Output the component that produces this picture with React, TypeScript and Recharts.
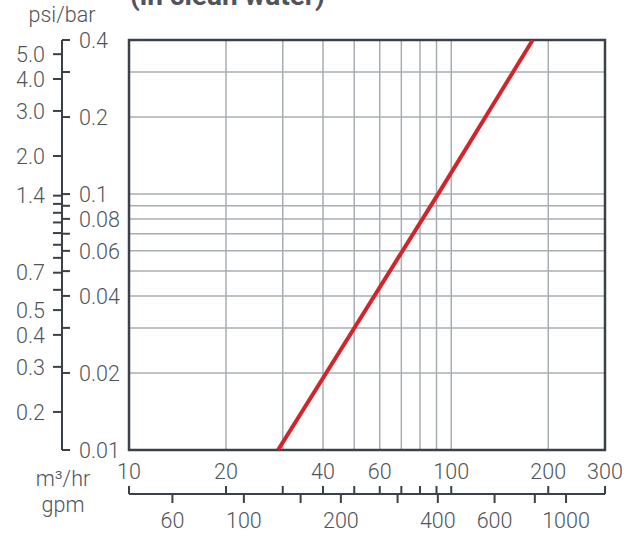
import React from "react";
import { LineChart, Line, XAxis, YAxis, CartesianGrid, ReferenceArea } from "recharts";

// pressure drop line
const flowM3 = [29, 91, 179];
const dropBar = [0.01, 0.1, 0.4];
const data = flowM3.map((q, i) => ({ q, bar: dropBar[i] }));

const m3Ticks = [10, 20, 30, 40, 50, 60, 70, 80, 90, 100, 200, 300];
const m3Labels = [10, 20, 40, 60, 100, 200, 300];
const gpmTicks = [60, 100, 150, 200, 300, 400, 600, 800, 1000];
const gpmLabels = [60, 100, 200, 400, 600, 1000];
const barTicks = [0.4, 0.3, 0.2, 0.1, 0.09, 0.08, 0.07, 0.06, 0.05, 0.04, 0.03, 0.02, 0.01];
const barLabels = [0.4, 0.2, 0.1, 0.08, 0.06, 0.04, 0.02, 0.01];
const psiTicks = [5, 4, 3, 2, 1.4, 1.3, 1.2, 1.1, 1.0, 0.9, 0.8, 0.7, 0.6, 0.5, 0.4, 0.3, 0.2];
const psiLabels = [5, 4, 3, 2, 1.4, 0.7, 0.5, 0.4, 0.3, 0.2];
const gridX = [20, 30, 40, 50, 60, 70, 80, 90, 100, 200];
const gridY = [0.3, 0.2, 0.1, 0.09, 0.08, 0.07, 0.06, 0.05, 0.04, 0.03, 0.02];

const m3Domain = [10, 300];
const gpmDomain = [44, 1321];
const barDomain = [0.01, 0.4];
const psiDomain = [0.142, 5.68];

const AXIS = "#3a4148";
const TEXT = "#4f555b";
const GRID = "#a7aeb3";
const RED = "#d3232b";
const FONT = "Roboto, sans-serif";
const FS = 21.5;
const FW = 300;

const BAR_W = 67; // width of the bar axis strip, its ticks hang off the psi line
const M3_H = 44;

const BarTick = (props: any) => {
  const { x, y, payload } = props;
  const lx = x - BAR_W;
  const v = payload.value;
  return (
    <g>
      <line x1={lx} x2={lx + 8} y1={y} y2={y} stroke={AXIS} strokeWidth={2} />
      {barLabels.includes(v) && (
        <text x={lx + 17} y={y} dy="0.36em" fill={TEXT} fontSize={FS} fontWeight={FW} fontFamily={FONT}>
          {String(v)}
        </text>
      )}
    </g>
  );
};

const M3Tick = (props: any) => {
  const { x, y, payload } = props;
  const v = payload.value;
  return (
    <g>
      <line x1={x} x2={x} y1={y + M3_H - 8} y2={y + M3_H} stroke={AXIS} strokeWidth={2} />
      {m3Labels.includes(v) && (
        <text x={x} y={y + 29} textAnchor="middle" fill={TEXT} fontSize={FS} fontWeight={FW} fontFamily={FONT}>
          {String(v)}
        </text>
      )}
    </g>
  );
};

export default function App() {
  return (
    <div style={{ position: "absolute", left: 0, top: 0, background: "#fff" }}>
      <LineChart
        width={639}
        height={536}
        data={data}
        margin={{ top: 40, right: 34, bottom: 0, left: 0 }}
      >
        <CartesianGrid
          xAxisId="flow"
          yAxisId="bar"
          verticalValues={gridX}
          horizontalValues={gridY}
          stroke={GRID}
          strokeWidth={1.5}
        />
        <XAxis
          xAxisId="flow"
          dataKey="q"
          type="number"
          scale="log"
          domain={m3Domain}
          allowDataOverflow
          ticks={m3Ticks}
          interval={0}
          height={M3_H}
          axisLine={false}
          tickLine={false}
          tickSize={0}
          tickMargin={0}
          tick={<M3Tick />}
        />
        <XAxis
          xAxisId="gpm"
          dataKey="q"
          type="number"
          scale="log"
          domain={gpmDomain}
          allowDataOverflow
          ticks={gpmTicks}
          interval={0}
          height={42}
          axisLine={{ stroke: AXIS, strokeWidth: 2 }}
          tickLine={{ stroke: AXIS, strokeWidth: 2 }}
          tickSize={9}
          tickMargin={10}
          tickFormatter={(v: number) => (gpmLabels.includes(v) ? String(v) : "")}
          tick={{ fill: TEXT, fontSize: FS, fontWeight: FW, fontFamily: FONT }}
        />
        <YAxis
          yAxisId="bar"
          type="number"
          scale="log"
          domain={barDomain}
          allowDataOverflow
          ticks={barTicks}
          interval={0}
          width={BAR_W}
          axisLine={false}
          tickLine={false}
          tickSize={0}
          tickMargin={0}
          tick={<BarTick />}
        />
        <YAxis
          yAxisId="psi"
          type="number"
          scale="log"
          domain={psiDomain}
          allowDataOverflow
          ticks={psiTicks}
          interval={0}
          width={62}
          axisLine={{ stroke: AXIS, strokeWidth: 2 }}
          tickLine={{ stroke: AXIS, strokeWidth: 2 }}
          tickSize={9}
          tickMargin={8}
          tickFormatter={(v: number) => (psiLabels.includes(v) ? v.toFixed(1) : "")}
          tick={{ fill: TEXT, fontSize: FS, fontWeight: FW, fontFamily: FONT }}
        />
        <ReferenceArea
          xAxisId="flow"
          yAxisId="bar"
          x1={m3Domain[0]}
          x2={m3Domain[1]}
          y1={barDomain[0]}
          y2={barDomain[1]}
          fill="none"
          fillOpacity={0}
          stroke={AXIS}
          strokeWidth={2.5}
        />
        <Line
          xAxisId="flow"
          yAxisId="bar"
          dataKey="bar"
          type="linear"
          stroke={RED}
          strokeWidth={4}
          dot={false}
          isAnimationActive={false}
        />
        <text x={130} y={5} fill={TEXT} fontSize={28} fontWeight={700} fontFamily={FONT}>
          (in clean water)
        </text>
        <text x={62} y={22} textAnchor="middle" fill={TEXT} fontSize={FS} fontWeight={FW} fontFamily={FONT}>
          psi/bar
        </text>
        <text x={63} y={486} textAnchor="middle" fill={TEXT} fontSize={FS} fontWeight={FW} fontFamily={FONT}>
          m³/hr
        </text>
        <text x={63} y={512} textAnchor="middle" fill={TEXT} fontSize={FS} fontWeight={FW} fontFamily={FONT}>
          gpm
        </text>
      </LineChart>
    </div>
  );
}
